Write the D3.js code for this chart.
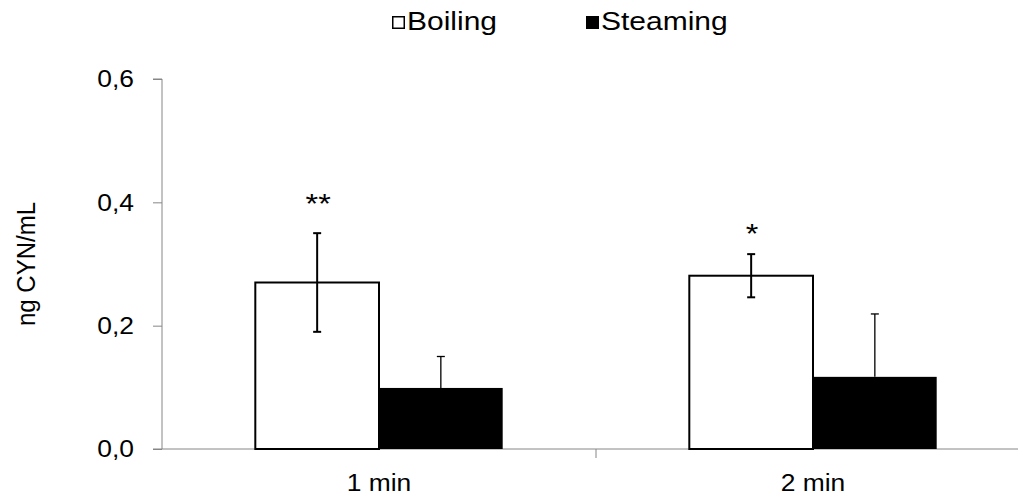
<!DOCTYPE html>
<meta charset="utf-8">
<script src="https://d3js.org/d3.v7.min.js"></script>
<style>
  body { margin: 0; background: #fff; }
  text { font-family: "Liberation Sans", Arial, sans-serif; fill: #000; }
</style>
<svg id="chart" width="1018" height="502"></svg>

<script>
  // data
  const categories = ["1 min", "2 min"];
  const series = ["Boiling", "Steaming"];
  const boiling = [0.27, 0.281];
  const boilingErr = [0.08, 0.035];
  const steaming = [0.099, 0.117];
  const steamingErr = [0.051, 0.102];
  const marks = ["**", "*"];
  const yTicks = [0, 0.2, 0.4, 0.6];

  const svg = d3.select("#chart");
  const margin = { left: 162, top: 79, bottom: 449 };
  const bandW = 434;
  const stretch = 1.1;            // the original text is a bit wider than tall
  const font = "'Liberation Sans', Arial, sans-serif";

  const x = d3.scaleBand()
    .domain(categories)
    .range([margin.left, margin.left + bandW * categories.length])
    .paddingInner(0).paddingOuter(0);

  const y = d3.scaleLinear().domain([0, 0.6]).range([margin.bottom, margin.top]);

  const barW = bandW * 0.285;
  const axisColor = "#868686";

  // y axis
  const yAxis = svg.append("g")
    .attr("transform", `translate(${margin.left},0)`)
    .call(d3.axisLeft(y).tickValues(yTicks).tickSize(9)
      .tickFormat(d => d3.format(".1f")(d).replace(".", ",")));
  yAxis.select(".domain").attr("stroke", axisColor).attr("d", `M-9,${y(0.6)}H0V${y(0)}`);
  yAxis.selectAll(".tick line").attr("stroke", axisColor);
  yAxis.selectAll(".tick text")
    .attr("x", -28 / stretch)
    .attr("transform", `scale(${stretch},1)`)
    .attr("fill", "#000")
    .style("font-size", "24px").style("font-family", font);

  // x axis
  const xAxis = svg.append("g")
    .attr("transform", `translate(0,${margin.bottom})`)
    .call(d3.axisBottom(x).tickSize(0).tickPadding(25));
  xAxis.select(".domain").attr("stroke", axisColor)
    .attr("d", `M${margin.left - 9},0H${margin.left + bandW * 2}`);
  xAxis.selectAll(".tick text")
    .attr("transform", `scale(${stretch},1)`)
    .attr("fill", "#000")
    .style("font-size", "24px").style("font-family", font);
  // separators between categories
  xAxis.selectAll(".sep")
    .data(categories.slice(1))
    .join("line")
    .attr("x1", d => x(d)).attr("x2", d => x(d))
    .attr("y1", 0).attr("y2", 9)
    .attr("stroke", axisColor);

  const center = d => x(d) + x.bandwidth() / 2;

  // steaming bars (black)
  svg.append("g").selectAll("rect")
    .data(categories)
    .join("rect")
    .attr("x", d => center(d))
    .attr("y", (d, i) => y(steaming[i]))
    .attr("width", barW)
    .attr("height", (d, i) => y(0) - y(steaming[i]))
    .attr("fill", "#000");

  // steaming error bars (upper only)
  const sErr = svg.append("g").attr("stroke", "#000").attr("stroke-width", 1.3);
  categories.forEach((c, i) => {
    const cx = center(c) + barW / 2;
    const hi = y(steaming[i] + steamingErr[i]);
    sErr.append("line").attr("x1", cx).attr("x2", cx).attr("y1", y(steaming[i])).attr("y2", hi);
    sErr.append("line").attr("x1", cx - 4).attr("x2", cx + 4).attr("y1", hi).attr("y2", hi);
  });

  // boiling bars (white, outlined)
  svg.append("g").selectAll("rect")
    .data(categories)
    .join("rect")
    .attr("x", d => center(d) - barW)
    .attr("y", (d, i) => y(boiling[i]))
    .attr("width", barW)
    .attr("height", (d, i) => y(0) - y(boiling[i]))
    .attr("fill", "#fff")
    .attr("stroke", "#000")
    .attr("stroke-width", 2);

  // boiling error bars + significance marks
  const markGap = [20, 11];
  const bErr = svg.append("g").attr("stroke", "#000").attr("stroke-width", 2);
  categories.forEach((c, i) => {
    const cx = center(c) - barW / 2;
    const hi = y(boiling[i] + boilingErr[i]), lo = y(boiling[i] - boilingErr[i]);
    bErr.append("line").attr("x1", cx).attr("x2", cx).attr("y1", hi).attr("y2", lo);
    bErr.append("line").attr("x1", cx - 4).attr("x2", cx + 4).attr("y1", hi).attr("y2", hi);
    bErr.append("line").attr("x1", cx - 4).attr("x2", cx + 4).attr("y1", lo).attr("y2", lo);
    svg.append("text")
      .attr("transform", `translate(${cx + 1},${hi - markGap[i]}) scale(1.2,1)`)
      .attr("text-anchor", "middle")
      .style("font-size", "27px")
      .text(marks[i]);
  });

  // y axis title
  svg.append("text")
    .attr("transform", `translate(26,${(margin.top + margin.bottom) / 2}) rotate(-90) scale(1,${stretch})`)
    .attr("text-anchor", "middle")
    .attr("dy", "0.35em")
    .style("font-size", "24px")
    .text("ng CYN/mL");

  // legend
  const legendX = [392, 586];
  const legend = svg.append("g");
  series.forEach((s, i) => {
    legend.append("rect")
      .attr("x", legendX[i] + 0.75).attr("y", 16.75)
      .attr("width", 11.5).attr("height", 11.5)
      .attr("fill", i === 0 ? "#fff" : "#000")
      .attr("stroke", "#000").attr("stroke-width", 1.5);
    legend.append("text")
      .attr("transform", `translate(${legendX[i] + 15},30) scale(1.2,1)`)
      .style("font-size", "25px")
      .text(s);
  });
</script>
